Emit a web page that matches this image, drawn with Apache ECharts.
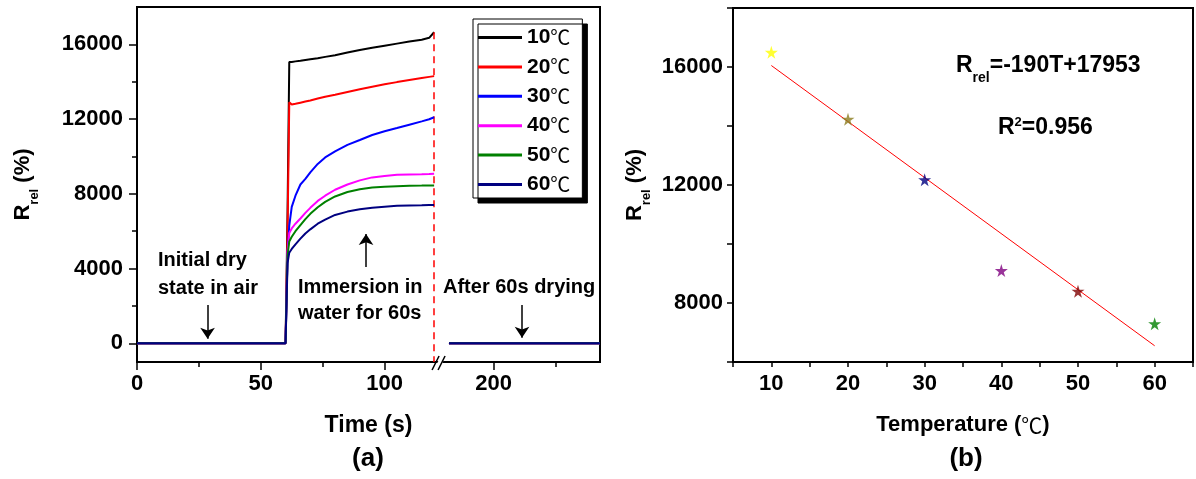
<!DOCTYPE html>
<html>
<head>
<meta charset="utf-8">
<script src="https://cdn.jsdelivr.net/npm/echarts@6/dist/echarts.min.js"></script>
<style>
  html, body { margin: 0; padding: 0; background: #fff; }
  #main { width: 1196px; height: 479px; }
</style>
</head>
<body>
<div id="main"></div>
<script>
// ---------- panel (a): Rrel (%) vs time (s) ----------
const tempLabels = ['10℃', '20℃', '30℃', '40℃', '50℃', '60℃'];
const dryTime = [0, 30];
const dryValues = [0, 0];
const wetTime = [60, 60.8, 61.5, 62.5, 64, 66, 68, 70, 73, 76, 80, 85, 90, 95, 100, 105, 110, 115, 118, 120];
const wet10 = [0, 7000, 15050, 15060, 15090, 15120, 15160, 15200, 15260, 15330, 15420, 15560, 15700, 15820, 15930, 16040, 16150, 16250, 16350, 16650];
const wet20 = [0, 6000, 12900, 12780, 12820, 12880, 12940, 13000, 13100, 13200, 13300, 13450, 13600, 13730, 13860, 13980, 14090, 14200, 14260, 14300];
const wet30 = [0, 4800, 6300, 7300, 7900, 8500, 8800, 9150, 9600, 9950, 10270, 10620, 10880, 11150, 11350, 11520, 11700, 11880, 11990, 12100];
const wet40 = [0, 4900, 5900, 6150, 6400, 6680, 6980, 7250, 7620, 7900, 8220, 8500, 8720, 8880, 8960, 9020, 9040, 9050, 9060, 9070];
const wet50 = [0, 4700, 5450, 5700, 6000, 6330, 6650, 6930, 7280, 7570, 7860, 8100, 8250, 8340, 8380, 8410, 8430, 8440, 8450, 8450];
const wet60 = [0, 4300, 4850, 5050, 5300, 5600, 5880, 6100, 6400, 6620, 6870, 7050, 7180, 7260, 7310, 7360, 7380, 7390, 7400, 7400];
const afterTime = [182, 210, 243];
const afterValues = [0, 0, 0];
const wetSets = [wet10, wet20, wet30, wet40, wet50, wet60];

// end of immersion (dashed marker) and the axis break
const immersionEnd = 120;
const immersionTop = 16650;
const breakFrom = 122;
const breakTo = 178;

const xMajorA = [0, 50, 100, 200];
const xMinorA = [25, 75, 225];
const yMajorA = [0, 4000, 8000, 12000, 16000];
const yMinorA = [2000, 6000, 10000, 14000];

// arrows: time, start value, end value
const arrowT = [28.5, 92.5, 211.5];
const arrowFrom = [2050, 4080, 2050];
const arrowTo = [250, 5850, 300];

// ---------- panel (b): Rrel (%) vs temperature ----------
const temps = [10, 20, 30, 40, 50, 60];
const rrelAt120 = [16500, 14230, 12180, 9100, 8400, 7300];
const fitT = [10, 60];
const fitR = [16050, 6550];

// styles
const lineColors = ['#000000', '#ff0000', '#0000ff', '#ff00ff', '#008000', '#000080'];
const starColors = ['#ffff00', '#8b7d1e', '#000080', '#800080', '#800000', '#008000'];
const SANS = '"Liberation Sans", Arial, sans-serif';
const CJK = '"Noto Sans CJK SC", sans-serif';
const STAR = 'path://M50,0 L61,35 L98,35 L68,57 L79,91 L50,70 L21,91 L32,57 L2,35 L39,35 Z';

const shift = breakTo - breakFrom;
const toAxis = t => (t <= breakFrom ? t : t - shift);
const fromAxis = v => (v <= breakFrom ? v : v + shift);

function timeSeriesData(wet) {
  const pts = [];
  dryTime.forEach((t, i) => pts.push([toAxis(t), dryValues[i]]));
  wetTime.forEach((t, i) => pts.push([toAxis(t), wet[i]]));
  pts.push([toAxis(breakFrom), '-']);
  afterTime.forEach((t, i) => pts.push([toAxis(t), afterValues[i]]));
  return pts;
}

const axisBlack = { lineStyle: { color: '#000', width: 2 } };
const tickBlack = { lineStyle: { color: '#000', width: 1.5 } };
const labelFont = { color: '#000', fontFamily: SANS, fontWeight: 'bold', fontSize: 22 };
const nameRich = {
  b: { fontFamily: SANS, fontWeight: 'bold', fontSize: 22, lineHeight: 36, color: '#000' },
  s: { fontFamily: SANS, fontWeight: 'bold', fontSize: 13, lineHeight: 13, verticalAlign: 'bottom', color: '#000' },
  c: { fontFamily: CJK, fontSize: 21, lineHeight: 36, color: '#000' }
};

const lineSeries = tempLabels.map((name, i) => ({
  name: name,
  type: 'line',
  xAxisIndex: 0,
  yAxisIndex: 0,
  data: timeSeriesData(wetSets[i]),
  symbol: 'none',
  connectNulls: false,
  lineStyle: { color: lineColors[i], width: 2 },
  itemStyle: { color: lineColors[i] },
  z: 3 + i
}));

const options = {
  animation: false,
  textStyle: { fontFamily: SANS },
  grid: [
    { left: 137, top: 7, width: 463, height: 355, show: true, borderColor: '#000', borderWidth: 2 },
    { left: 733, top: 8, width: 462, height: 354, show: true, borderColor: '#000', borderWidth: 2 }
  ],
  legend: {
    data: tempLabels,
    orient: 'vertical',
    left: 473,
    top: 19,
    icon: 'rect',
    itemWidth: 44,
    itemHeight: 3,
    itemGap: 8.4,
    padding: [8, 12, 3, 5],
    selectedMode: false,
    backgroundColor: '#fff',
    borderColor: '#000',
    borderWidth: 1,
    shadowColor: '#000',
    shadowBlur: 0,
    shadowOffsetX: 5,
    shadowOffsetY: 5,
    formatter: n => `{b|${n.replace('℃', '')}}{c|℃}`,
    textStyle: {
      rich: {
        b: { fontFamily: SANS, fontWeight: 'bold', fontSize: 21, lineHeight: 22, color: '#000' },
        c: { fontFamily: CJK, fontSize: 20, lineHeight: 22, color: '#000' }
      }
    }
  },
  xAxis: [
    {
      gridIndex: 0, type: 'value', position: 'bottom', min: 0, max: toAxis(243),
      name: 'Time (s)', nameLocation: 'middle', nameGap: 52,
      nameTextStyle: { fontFamily: SANS, fontWeight: 'bold', fontSize: 23, color: '#000' },
      axisLine: { onZero: false, ...axisBlack },
      axisTick: { customValues: xMajorA.map(toAxis), length: 8, ...tickBlack },
      axisLabel: { customValues: xMajorA.map(toAxis), margin: 11, formatter: v => String(fromAxis(v)), ...labelFont },
      splitLine: { show: false }
    },
    {
      gridIndex: 0, type: 'value', position: 'bottom', min: 0, max: toAxis(243),
      axisLine: { show: false, onZero: false },
      axisTick: { customValues: xMinorA.map(toAxis), length: 5, ...tickBlack },
      axisLabel: { show: false },
      splitLine: { show: false }
    },
    {
      gridIndex: 1, type: 'value', position: 'bottom', min: 5, max: 65, interval: 5,
      name: '{b|Temperature (}{c|℃}{b|)}', nameLocation: 'middle', nameGap: 45,
      nameTextStyle: { rich: nameRich },
      axisLine: { onZero: false, ...axisBlack },
      axisTick: { length: 5, ...tickBlack },
      axisLabel: { margin: 11, formatter: v => (v % 10 === 0 ? String(v) : ''), ...labelFont },
      splitLine: { show: false }
    }
  ],
  yAxis: [
    {
      gridIndex: 0, type: 'value', position: 'left', min: -1000, max: 18000,
      name: '{b|R}{s|rel}{b| (%)}', nameLocation: 'middle', nameRotate: 90, nameGap: 96,
      nameTextStyle: { rich: nameRich },
      axisLine: { onZero: false, ...axisBlack },
      axisTick: { customValues: yMajorA, length: 8, ...tickBlack },
      axisLabel: { customValues: yMajorA, margin: 14, formatter: v => String(v), ...labelFont },
      splitLine: { show: false }
    },
    {
      gridIndex: 0, type: 'value', position: 'left', min: -1000, max: 18000,
      axisLine: { show: false, onZero: false },
      axisTick: { customValues: yMinorA, length: 5, ...tickBlack },
      axisLabel: { show: false },
      splitLine: { show: false }
    },
    {
      gridIndex: 1, type: 'value', position: 'left', min: 6000, max: 18000, interval: 2000,
      name: '{b|R}{s|rel}{b| (%)}', nameLocation: 'middle', nameRotate: 90, nameGap: 80,
      nameTextStyle: { rich: nameRich },
      axisLine: { onZero: false, ...axisBlack },
      axisTick: { length: 6, ...tickBlack },
      axisLabel: { margin: 10, formatter: v => (v % 4000 === 0 ? String(v) : ''), ...labelFont },
      splitLine: { show: false }
    }
  ],
  series: [
    ...lineSeries,
    {
      name: 'marker',
      type: 'line',
      xAxisIndex: 0,
      yAxisIndex: 0,
      data: [],
      z: 10,
      markLine: {
        silent: true,
        symbol: ['none', 'none'],
        label: { show: false },
        lineStyle: { color: '#ff0000', type: [7, 5], width: 1.5 },
        data: [[{ coord: [toAxis(immersionEnd), immersionTop] }, { coord: [toAxis(immersionEnd), -1000] }]]
      }
    },
    {
      name: 'arrows',
      type: 'line',
      xAxisIndex: 0,
      yAxisIndex: 0,
      data: [],
      z: 10,
      markLine: {
        silent: true,
        symbol: ['none', 'arrow'],
        symbolSize: 11,
        label: { show: false },
        lineStyle: { color: '#000', type: 'solid', width: 1.5 },
        data: arrowT.map((t, i) => [{ coord: [toAxis(t), arrowFrom[i]] }, { coord: [toAxis(t), arrowTo[i]] }])
      }
    },
    {
      name: 'fit',
      type: 'line',
      xAxisIndex: 2,
      yAxisIndex: 2,
      data: fitT.map((t, i) => [t, fitR[i]]),
      symbol: 'none',
      lineStyle: { color: '#ff0000', width: 1 }
    },
    {
      name: 'Rrel at 120 s',
      type: 'scatter',
      xAxisIndex: 2,
      yAxisIndex: 2,
      symbol: STAR,
      symbolSize: 13,
      data: temps.map((t, i) => ({ value: [t, rrelAt120[i]], itemStyle: { color: starColors[i] } })),
      z: 5
    }
  ],
  graphic: [
    {
      id: 'noteDry', type: 'text', x: 158, y: 246,
      style: { text: 'Initial dry\nstate in air', font: 'bold 20px ' + SANS, fill: '#000', lineHeight: 28, verticalAlign: 'top' }
    },
    {
      id: 'noteWet', type: 'text', x: 298, y: 274,
      style: { text: 'Immersion in\nwater for 60s', font: 'bold 20px ' + SANS, fill: '#000', lineHeight: 26, verticalAlign: 'top' }
    },
    {
      id: 'noteAfter', type: 'text', x: 443, y: 274,
      style: { text: 'After 60s drying', font: 'bold 20px ' + SANS, fill: '#000', lineHeight: 26, verticalAlign: 'top' }
    },
    {
      id: 'eq', type: 'text', x: 956, y: 47,
      style: {
        text: '{m|R}{s|rel}{m|=-190T+17953}',
        verticalAlign: 'top',
        rich: {
          m: { fontFamily: SANS, fontWeight: 'bold', fontSize: 23, lineHeight: 38, fill: '#000' },
          s: { fontFamily: SANS, fontWeight: 'bold', fontSize: 14, lineHeight: 14, verticalAlign: 'bottom', fill: '#000' }
        }
      }
    },
    {
      id: 'r2', type: 'text', x: 998, y: 116,
      style: {
        text: '{m|R}{p|2}{m|=0.956}',
        verticalAlign: 'top',
        rich: {
          m: { fontFamily: SANS, fontWeight: 'bold', fontSize: 23, lineHeight: 23, fill: '#000' },
          p: { fontFamily: SANS, fontWeight: 'bold', fontSize: 13, lineHeight: 13, verticalAlign: 'top', fill: '#000' }
        }
      }
    },
    {
      id: 'tagA', type: 'text', x: 368, y: 446,
      style: { text: '(a)', font: 'bold 26px ' + SANS, fill: '#000', align: 'center', verticalAlign: 'top' }
    },
    {
      id: 'tagB', type: 'text', x: 966, y: 446,
      style: { text: '(b)', font: 'bold 26px ' + SANS, fill: '#000', align: 'center', verticalAlign: 'top' }
    }
  ]
};

const chart = echarts.init(document.getElementById('main'));
chart.setOption(options, true);

// "//" break mark on the time axis
const bx = chart.convertToPixel({ xAxisIndex: 0 }, breakFrom);
const by = chart.convertToPixel({ yAxisIndex: 0 }, -1000);
chart.setOption({
  graphic: [
    {
      id: 'breakGap', type: 'polygon', z: 100,
      shape: { points: [[bx - 5, by + 7], [bx + 2, by - 6], [bx + 7, by - 6], [bx, by + 7]] },
      style: { fill: '#fff' }
    },
    {
      id: 'breakL', type: 'line', z: 101,
      shape: { x1: bx - 7, y1: by + 8, x2: bx, y2: by - 6 },
      style: { stroke: '#000', lineWidth: 1.5 }
    },
    {
      id: 'breakR', type: 'line', z: 101,
      shape: { x1: bx - 1, y1: by + 8, x2: bx + 6, y2: by - 6 },
      style: { stroke: '#000', lineWidth: 1.5 }
    }
  ]
});
</script>
</body>
</html>
